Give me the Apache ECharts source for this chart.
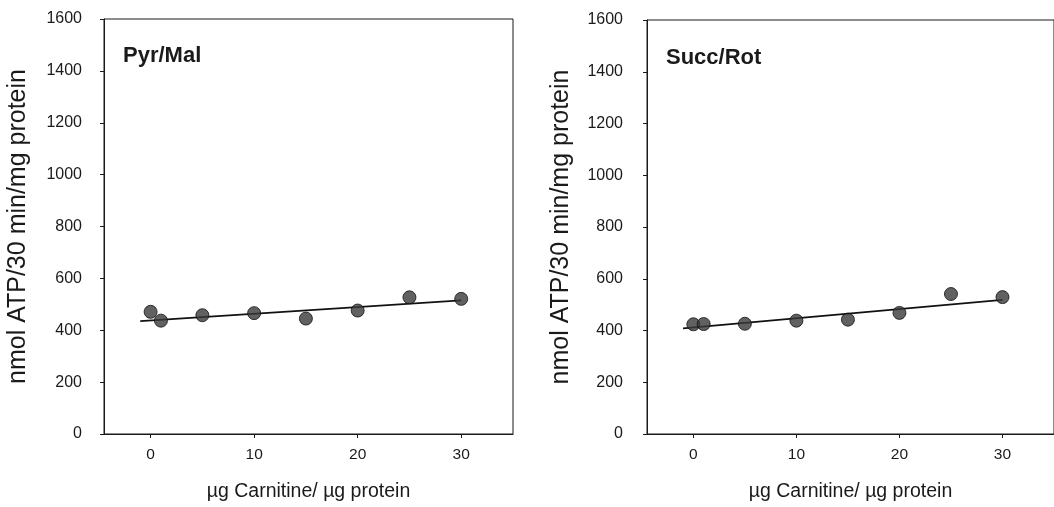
<!DOCTYPE html>
<html>
<head>
<meta charset="utf-8">
<script src="https://cdn.jsdelivr.net/npm/echarts@6/dist/echarts.min.js"></script>
<style>
  html, body { margin: 0; padding: 0; background: #fff; }
  #chart { width: 1054px; height: 507px; }
</style>
</head>
<body>
<div id="chart"></div>
<script>
// Carnitine dose (µg / µg protein)
const carnitine = [0, 1, 5, 10, 15, 20, 25, 30];
// ATP production, nmol ATP / 30 min / mg protein
const pyrMal = [471, 437, 458, 466, 445, 476, 527, 521];
const succRot = [424, 425, 426, 438, 442, 468, 541, 529];
// Regression line end points
const fitX = [-1, 30];
const pyrMalFit = [435, 515];
const succRotFit = [408, 518];
// Axis ticks
const xTicks = [0, 10, 20, 30];
const panelNames = ['Pyr/Mal', 'Succ/Rot'];
const yTitle = 'nmol ATP/30 min/mg protein';
const xTitle = 'µg Carnitine/ µg protein';

const FONT = "'Liberation Sans', Arial, sans-serif";
const INK = '#1a1a1a';

function pairs(xs, ys) { return xs.map((x, i) => [x, ys[i]]); }

function xAxis(gridIndex) {
  return {
    gridIndex, type: 'value', min: -4.5, max: 35,
    name: xTitle, nameLocation: 'middle', nameGap: 48,
    nameTextStyle: { fontFamily: FONT, fontSize: 19.5, color: INK },
    axisLine: { show: true, onZero: false, lineStyle: { color: INK, width: 1 } },
    axisTick: { show: true, customValues: xTicks, length: 4, lineStyle: { color: INK } },
    axisLabel: { customValues: xTicks, margin: 13, fontFamily: FONT, fontSize: 15.5, color: INK },
    splitLine: { show: false }
  };
}

function yAxis(gridIndex, margin) {
  return {
    gridIndex, type: 'value', min: 0, max: 1600, interval: 200,
    name: yTitle, nameLocation: 'middle', nameGap: 73, nameRotate: 90,
    nameTextStyle: { fontFamily: FONT, fontSize: 25, color: INK },
    axisLine: { show: true, onZero: false, lineStyle: { color: INK, width: 1 } },
    axisTick: { show: true, length: 4, lineStyle: { color: INK } },
    axisLabel: { margin, fontFamily: FONT, fontSize: 16, color: INK,
                 formatter: (v) => String(v) },
    splitLine: { show: false }
  };
}

function pointSeries(idx, values) {
  return {
    type: 'scatter', xAxisIndex: idx, yAxisIndex: idx,
    data: pairs(carnitine, values), symbol: 'circle', symbolSize: 13,
    itemStyle: { color: '#3a3a3a', borderColor: '#111', borderWidth: 1 },
    z: 3
  };
}

function fitSeries(idx, values) {
  return {
    type: 'line', xAxisIndex: idx, yAxisIndex: idx,
    data: pairs(fitX, values), symbol: 'none',
    lineStyle: { color: '#111', width: 1.8 }, z: 2
  };
}

const chart = echarts.init(document.getElementById('chart'), null, { renderer: 'canvas' });
chart.setOption({
  backgroundColor: '#fff',
  animation: false,
  title: [
    { text: panelNames[0], left: 123, top: 45, padding: 0,
      textStyle: { fontFamily: FONT, fontSize: 22, fontWeight: 'bold', color: INK } },
    { text: panelNames[1], left: 666, top: 47, padding: 0,
      textStyle: { fontFamily: FONT, fontSize: 22, fontWeight: 'bold', color: INK } }
  ],
  grid: [
    { left: 104, top: 19, width: 409, height: 415.5, show: true, borderColor: INK, borderWidth: 1 },
    { left: 647, top: 20, width: 415, height: 414, show: true, borderColor: INK, borderWidth: 1 }
  ],
  xAxis: [xAxis(0), xAxis(1)],
  yAxis: [yAxis(0, 22), yAxis(1, 24)],
  series: [
    fitSeries(0, pyrMalFit), pointSeries(0, pyrMal),
    fitSeries(1, succRotFit), pointSeries(1, succRot)
  ]
});
</script>
</body>
</html>
